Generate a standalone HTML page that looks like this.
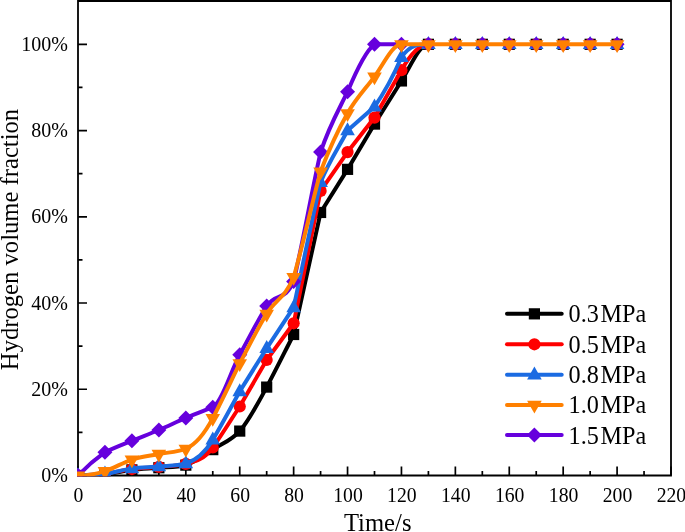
<!DOCTYPE html><html><head><meta charset="utf-8"><title>chart</title><style>html,body{margin:0;padding:0;background:#fff;}body{width:685px;height:532px;overflow:hidden;}svg{display:block;will-change:transform;font-family:"Liberation Serif",serif;}</style></head><body>
<svg width="685" height="532" viewBox="0 0 685 532">
<rect width="685" height="532" fill="#fff"/>
<g stroke="#000" fill="none">
<path d="M78.00,1.00 H671.00 V475.50 H78.00 Z" stroke-width="1.8"/>
<path d="M78.00,475.50 v-9 M131.91,475.50 v-9 M185.82,475.50 v-9 M239.73,475.50 v-9 M293.64,475.50 v-9 M347.55,475.50 v-9 M401.45,475.50 v-9 M455.36,475.50 v-9 M509.27,475.50 v-9 M563.18,475.50 v-9 M617.09,475.50 v-9 M671.00,475.50 v-9 M104.95,475.50 v-4.5 M158.86,475.50 v-4.5 M212.77,475.50 v-4.5 M266.68,475.50 v-4.5 M320.59,475.50 v-4.5 M374.50,475.50 v-4.5 M428.41,475.50 v-4.5 M482.32,475.50 v-4.5 M536.23,475.50 v-4.5 M590.14,475.50 v-4.5 M644.05,475.50 v-4.5 M78.00,475.50 h9 M78.00,389.26 h9 M78.00,303.02 h9 M78.00,216.78 h9 M78.00,130.54 h9 M78.00,44.30 h9 M78.00,432.38 h4.5 M78.00,346.14 h4.5 M78.00,259.90 h4.5 M78.00,173.66 h4.5 M78.00,87.42 h4.5 M78.00,1.18 h4.5" stroke-width="1.7"/>
</g>
<g fill="#000">
<text transform="translate(78.40,502.10) scale(0.9650,1)" font-size="20.40" text-anchor="middle">0</text>
<text transform="translate(132.31,502.10) scale(0.9650,1)" font-size="20.40" text-anchor="middle">20</text>
<text transform="translate(186.22,502.10) scale(0.9650,1)" font-size="20.40" text-anchor="middle">40</text>
<text transform="translate(240.13,502.10) scale(0.9650,1)" font-size="20.40" text-anchor="middle">60</text>
<text transform="translate(294.04,502.10) scale(0.9650,1)" font-size="20.40" text-anchor="middle">80</text>
<text transform="translate(347.95,502.10) scale(0.9650,1)" font-size="20.40" text-anchor="middle">100</text>
<text transform="translate(401.85,502.10) scale(0.9650,1)" font-size="20.40" text-anchor="middle">120</text>
<text transform="translate(455.76,502.10) scale(0.9650,1)" font-size="20.40" text-anchor="middle">140</text>
<text transform="translate(509.67,502.10) scale(0.9650,1)" font-size="20.40" text-anchor="middle">160</text>
<text transform="translate(563.58,502.10) scale(0.9650,1)" font-size="20.40" text-anchor="middle">180</text>
<text transform="translate(617.49,502.10) scale(0.9650,1)" font-size="20.40" text-anchor="middle">200</text>
<text transform="translate(671.40,502.10) scale(0.9650,1)" font-size="20.40" text-anchor="middle">220</text>
<text transform="translate(68.00,482.00) scale(0.9800,1)" font-size="20.40" text-anchor="end">0%</text>
<text transform="translate(68.00,395.76) scale(0.9800,1)" font-size="20.40" text-anchor="end">20%</text>
<text transform="translate(68.00,309.52) scale(0.9800,1)" font-size="20.40" text-anchor="end">40%</text>
<text transform="translate(68.00,223.28) scale(0.9800,1)" font-size="20.40" text-anchor="end">60%</text>
<text transform="translate(68.00,137.04) scale(0.9800,1)" font-size="20.40" text-anchor="end">80%</text>
<text transform="translate(68.00,50.80) scale(0.9800,1)" font-size="20.40" text-anchor="end">100%</text>
<text transform="translate(377.70,531.20) scale(0.9550,1)" font-size="25.80" text-anchor="middle">Time/s</text>
<text transform="translate(18.00,239.50) rotate(-90) scale(0.9550,1)" font-size="25.80" text-anchor="middle">Hydrogen volume fraction</text>
</g>
<defs><clipPath id="c"><rect x="77.00" y="0" width="595.00" height="476.30"/></clipPath></defs>
<g clip-path="url(#c)">
<path d="M78.00,475.50 C86.98,475.07 95.97,475.14 104.95,474.21 C113.94,473.27 122.92,470.97 131.91,469.89 C140.89,468.82 149.88,468.53 158.86,467.74 C167.85,467.08 176.83,467.65 185.82,465.15 C194.80,462.13 203.79,454.80 212.77,449.63 C221.76,443.45 230.74,441.08 239.73,431.09 C248.71,421.09 257.70,403.92 266.68,387.10 C275.67,370.29 284.65,352.03 293.64,334.50 L320.59,212.47 L347.55,169.35 L374.50,124.07 L401.45,80.95 C410.44,66.58 419.42,44.30 428.41,44.30" fill="none" stroke="#000000" stroke-width="4.0" stroke-linejoin="round" stroke-linecap="round"/>
<rect x="72.40" y="469.90" width="11.20" height="11.20" fill="#000000"/>
<rect x="99.35" y="468.61" width="11.20" height="11.20" fill="#000000"/>
<rect x="126.31" y="464.29" width="11.20" height="11.20" fill="#000000"/>
<rect x="153.26" y="462.14" width="11.20" height="11.20" fill="#000000"/>
<rect x="180.22" y="459.55" width="11.20" height="11.20" fill="#000000"/>
<rect x="207.17" y="444.03" width="11.20" height="11.20" fill="#000000"/>
<rect x="234.13" y="425.49" width="11.20" height="11.20" fill="#000000"/>
<rect x="261.08" y="381.50" width="11.20" height="11.20" fill="#000000"/>
<rect x="288.04" y="328.90" width="11.20" height="11.20" fill="#000000"/>
<rect x="314.99" y="206.87" width="11.20" height="11.20" fill="#000000"/>
<rect x="341.95" y="163.75" width="11.20" height="11.20" fill="#000000"/>
<rect x="368.90" y="118.47" width="11.20" height="11.20" fill="#000000"/>
<rect x="395.85" y="75.35" width="11.20" height="11.20" fill="#000000"/>
<rect x="422.81" y="38.70" width="11.20" height="11.20" fill="#000000"/>
<rect x="449.76" y="38.70" width="11.20" height="11.20" fill="#000000"/>
<rect x="476.72" y="38.70" width="11.20" height="11.20" fill="#000000"/>
<rect x="503.67" y="38.70" width="11.20" height="11.20" fill="#000000"/>
<rect x="530.63" y="38.70" width="11.20" height="11.20" fill="#000000"/>
<rect x="557.58" y="38.70" width="11.20" height="11.20" fill="#000000"/>
<rect x="584.54" y="38.70" width="11.20" height="11.20" fill="#000000"/>
<rect x="611.49" y="38.70" width="11.20" height="11.20" fill="#000000"/>
<path d="M78.00,475.50 C86.98,474.93 95.97,474.85 104.95,473.78 C113.94,472.70 122.92,470.18 131.91,469.03 C140.89,467.88 149.88,467.74 158.86,466.88 C167.85,466.01 176.83,465.98 185.82,463.86 C194.80,461.74 203.79,459.90 212.77,447.47 C221.76,435.05 230.74,420.16 239.73,406.51 L266.68,359.94 L293.64,323.29 L320.59,190.91 L347.55,152.10 L374.50,117.60 L401.45,70.17 C410.44,54.36 419.42,44.30 428.41,44.30" fill="none" stroke="#ff0000" stroke-width="4.0" stroke-linejoin="round" stroke-linecap="round"/>
<circle cx="78.00" cy="475.50" r="6.1" fill="#ff0000"/>
<circle cx="104.95" cy="473.78" r="6.1" fill="#ff0000"/>
<circle cx="131.91" cy="469.03" r="6.1" fill="#ff0000"/>
<circle cx="158.86" cy="466.88" r="6.1" fill="#ff0000"/>
<circle cx="185.82" cy="463.86" r="6.1" fill="#ff0000"/>
<circle cx="212.77" cy="447.47" r="6.1" fill="#ff0000"/>
<circle cx="239.73" cy="406.51" r="6.1" fill="#ff0000"/>
<circle cx="266.68" cy="359.94" r="6.1" fill="#ff0000"/>
<circle cx="293.64" cy="323.29" r="6.1" fill="#ff0000"/>
<circle cx="320.59" cy="190.91" r="6.1" fill="#ff0000"/>
<circle cx="347.55" cy="152.10" r="6.1" fill="#ff0000"/>
<circle cx="374.50" cy="117.60" r="6.1" fill="#ff0000"/>
<circle cx="401.45" cy="70.17" r="6.1" fill="#ff0000"/>
<circle cx="428.41" cy="44.30" r="6.1" fill="#ff0000"/>
<circle cx="455.36" cy="44.30" r="6.1" fill="#ff0000"/>
<circle cx="482.32" cy="44.30" r="6.1" fill="#ff0000"/>
<circle cx="509.27" cy="44.30" r="6.1" fill="#ff0000"/>
<circle cx="536.23" cy="44.30" r="6.1" fill="#ff0000"/>
<circle cx="563.18" cy="44.30" r="6.1" fill="#ff0000"/>
<circle cx="590.14" cy="44.30" r="6.1" fill="#ff0000"/>
<circle cx="617.09" cy="44.30" r="6.1" fill="#ff0000"/>
<path d="M78.00,475.50 C86.98,474.93 95.97,474.59 104.95,473.78 C113.94,472.96 122.92,469.61 131.91,468.39 C140.89,467.16 149.88,467.27 158.86,466.44 C167.85,465.62 176.83,466.16 185.82,463.43 C194.80,460.70 203.79,454.58 212.77,439.71 C221.76,424.84 230.74,407.51 239.73,391.42 L266.68,348.30 L293.64,307.33 C302.62,265.65 311.61,221.52 320.59,182.28 C329.58,160.15 338.56,147.79 347.55,130.54 L374.50,106.82 C383.48,93.74 392.47,78.08 401.45,57.24 C410.44,44.30 419.42,44.30 428.41,44.30" fill="none" stroke="#1b6be2" stroke-width="4.0" stroke-linejoin="round" stroke-linecap="round"/>
<polygon points="78.00,467.30 70.70,480.30 85.30,480.30" fill="#1b6be2"/>
<polygon points="104.95,465.58 97.65,478.58 112.25,478.58" fill="#1b6be2"/>
<polygon points="131.91,460.19 124.61,473.19 139.21,473.19" fill="#1b6be2"/>
<polygon points="158.86,458.24 151.56,471.24 166.16,471.24" fill="#1b6be2"/>
<polygon points="185.82,455.23 178.52,468.23 193.12,468.23" fill="#1b6be2"/>
<polygon points="212.77,431.51 205.47,444.51 220.07,444.51" fill="#1b6be2"/>
<polygon points="239.73,383.22 232.43,396.22 247.03,396.22" fill="#1b6be2"/>
<polygon points="266.68,340.10 259.38,353.10 273.98,353.10" fill="#1b6be2"/>
<polygon points="293.64,299.13 286.34,312.13 300.94,312.13" fill="#1b6be2"/>
<polygon points="320.59,174.08 313.29,187.08 327.89,187.08" fill="#1b6be2"/>
<polygon points="347.55,122.34 340.25,135.34 354.85,135.34" fill="#1b6be2"/>
<polygon points="374.50,98.62 367.20,111.62 381.80,111.62" fill="#1b6be2"/>
<polygon points="401.45,49.04 394.15,62.04 408.75,62.04" fill="#1b6be2"/>
<polygon points="428.41,36.10 421.11,49.10 435.71,49.10" fill="#1b6be2"/>
<polygon points="455.36,36.10 448.06,49.10 462.66,49.10" fill="#1b6be2"/>
<polygon points="482.32,36.10 475.02,49.10 489.62,49.10" fill="#1b6be2"/>
<polygon points="509.27,36.10 501.97,49.10 516.57,49.10" fill="#1b6be2"/>
<polygon points="536.23,36.10 528.93,49.10 543.53,49.10" fill="#1b6be2"/>
<polygon points="563.18,36.10 555.88,49.10 570.48,49.10" fill="#1b6be2"/>
<polygon points="590.14,36.10 582.84,49.10 597.44,49.10" fill="#1b6be2"/>
<polygon points="617.09,36.10 609.79,49.10 624.39,49.10" fill="#1b6be2"/>
<path d="M78.00,475.50 C86.98,466.30 95.97,458.68 104.95,452.22 C113.94,447.90 122.92,444.49 131.91,440.79 C140.89,437.09 149.88,433.82 158.86,430.01 C167.85,426.20 176.83,421.74 185.82,417.93 C194.80,414.13 203.79,410.75 212.77,407.15 C221.76,403.56 230.74,371.01 239.73,354.76 C248.71,338.52 257.70,320.67 266.68,306.04 C275.67,292.50 284.65,301.97 293.64,281.46 C302.62,243.58 311.61,191.77 320.59,152.10 C329.58,125.08 338.56,110.42 347.55,91.73 C356.53,70.17 365.52,50.77 374.50,44.30 L401.45,44.30" fill="none" stroke="#6600dd" stroke-width="4.0" stroke-linejoin="round" stroke-linecap="round"/>
<polygon points="78.00,468.00 85.50,475.50 78.00,483.00 70.50,475.50" fill="#6600dd"/>
<polygon points="104.95,444.72 112.45,452.22 104.95,459.72 97.45,452.22" fill="#6600dd"/>
<polygon points="131.91,433.29 139.41,440.79 131.91,448.29 124.41,440.79" fill="#6600dd"/>
<polygon points="158.86,422.51 166.36,430.01 158.86,437.51 151.36,430.01" fill="#6600dd"/>
<polygon points="185.82,410.43 193.32,417.93 185.82,425.43 178.32,417.93" fill="#6600dd"/>
<polygon points="212.77,399.65 220.27,407.15 212.77,414.65 205.27,407.15" fill="#6600dd"/>
<polygon points="239.73,347.26 247.23,354.76 239.73,362.26 232.23,354.76" fill="#6600dd"/>
<polygon points="266.68,298.54 274.18,306.04 266.68,313.54 259.18,306.04" fill="#6600dd"/>
<polygon points="293.64,273.96 301.14,281.46 293.64,288.96 286.14,281.46" fill="#6600dd"/>
<polygon points="320.59,144.60 328.09,152.10 320.59,159.60 313.09,152.10" fill="#6600dd"/>
<polygon points="347.55,84.23 355.05,91.73 347.55,99.23 340.05,91.73" fill="#6600dd"/>
<polygon points="374.50,36.80 382.00,44.30 374.50,51.80 367.00,44.30" fill="#6600dd"/>
<polygon points="401.45,36.80 408.95,44.30 401.45,51.80 393.95,44.30" fill="#6600dd"/>
<polygon points="428.41,36.80 435.91,44.30 428.41,51.80 420.91,44.30" fill="#6600dd"/>
<polygon points="455.36,36.80 462.86,44.30 455.36,51.80 447.86,44.30" fill="#6600dd"/>
<polygon points="482.32,36.80 489.82,44.30 482.32,51.80 474.82,44.30" fill="#6600dd"/>
<polygon points="509.27,36.80 516.77,44.30 509.27,51.80 501.77,44.30" fill="#6600dd"/>
<polygon points="536.23,36.80 543.73,44.30 536.23,51.80 528.73,44.30" fill="#6600dd"/>
<polygon points="563.18,36.80 570.68,44.30 563.18,51.80 555.68,44.30" fill="#6600dd"/>
<polygon points="590.14,36.80 597.64,44.30 590.14,51.80 582.64,44.30" fill="#6600dd"/>
<polygon points="617.09,36.80 624.59,44.30 617.09,51.80 609.59,44.30" fill="#6600dd"/>
<path d="M78.00,475.50 C86.98,476.36 95.97,474.06 104.95,471.19 C113.94,468.31 122.92,462.42 131.91,459.55 C140.89,456.67 149.88,455.74 158.86,453.94 C167.85,452.14 176.83,452.61 185.82,448.77 C194.80,444.92 203.79,435.20 212.77,418.15 C221.76,401.10 230.74,381.64 239.73,363.39 C248.71,346.86 257.70,328.17 266.68,313.80 C275.67,299.43 284.65,298.56 293.64,277.15 C302.62,246.53 311.61,204.35 320.59,171.50 C329.58,148.15 338.56,129.10 347.55,113.29 C356.53,97.48 365.52,88.86 374.50,76.64 C383.48,64.42 392.47,44.30 401.45,44.30 L428.41,44.30 L455.36,44.30 L482.32,44.30 L509.27,44.30 L536.23,44.30 L563.18,44.30 L590.14,44.30 L617.09,44.30" fill="none" stroke="#ff8000" stroke-width="4.0" stroke-linejoin="round" stroke-linecap="round"/>
<polygon points="78.00,484.20 70.70,471.40 85.30,471.40" fill="#ff8000"/>
<polygon points="104.95,479.89 97.65,467.09 112.25,467.09" fill="#ff8000"/>
<polygon points="131.91,468.25 124.61,455.45 139.21,455.45" fill="#ff8000"/>
<polygon points="158.86,462.64 151.56,449.84 166.16,449.84" fill="#ff8000"/>
<polygon points="185.82,457.47 178.52,444.67 193.12,444.67" fill="#ff8000"/>
<polygon points="212.77,426.85 205.47,414.05 220.07,414.05" fill="#ff8000"/>
<polygon points="239.73,372.09 232.43,359.29 247.03,359.29" fill="#ff8000"/>
<polygon points="266.68,322.50 259.38,309.70 273.98,309.70" fill="#ff8000"/>
<polygon points="293.64,285.85 286.34,273.05 300.94,273.05" fill="#ff8000"/>
<polygon points="320.59,180.20 313.29,167.40 327.89,167.40" fill="#ff8000"/>
<polygon points="347.55,121.99 340.25,109.19 354.85,109.19" fill="#ff8000"/>
<polygon points="374.50,85.34 367.20,72.54 381.80,72.54" fill="#ff8000"/>
<polygon points="401.45,53.00 394.15,40.20 408.75,40.20" fill="#ff8000"/>
<polygon points="428.41,53.00 421.11,40.20 435.71,40.20" fill="#ff8000"/>
<polygon points="455.36,53.00 448.06,40.20 462.66,40.20" fill="#ff8000"/>
<polygon points="482.32,53.00 475.02,40.20 489.62,40.20" fill="#ff8000"/>
<polygon points="509.27,53.00 501.97,40.20 516.57,40.20" fill="#ff8000"/>
<polygon points="536.23,53.00 528.93,40.20 543.53,40.20" fill="#ff8000"/>
<polygon points="563.18,53.00 555.88,40.20 570.48,40.20" fill="#ff8000"/>
<polygon points="590.14,53.00 582.84,40.20 597.44,40.20" fill="#ff8000"/>
<polygon points="617.09,53.00 609.79,40.20 624.39,40.20" fill="#ff8000"/>
</g>
<path d="M507,313.85 H561.7" stroke="#000000" stroke-width="4.0" fill="none" stroke-linecap="round"/>
<rect x="528.80" y="308.25" width="11.20" height="11.20" fill="#000000"/>
<text x="568.6" y="322.35" font-size="24.2">0.3<tspan dx="1.6">MPa</tspan></text>
<path d="M507,344.30 H561.7" stroke="#ff0000" stroke-width="4.0" fill="none" stroke-linecap="round"/>
<circle cx="534.40" cy="344.30" r="6.1" fill="#ff0000"/>
<text x="568.6" y="352.80" font-size="24.2">0.5<tspan dx="1.6">MPa</tspan></text>
<path d="M507,374.80 H561.7" stroke="#1b6be2" stroke-width="4.0" fill="none" stroke-linecap="round"/>
<polygon points="534.40,366.60 527.10,379.60 541.70,379.60" fill="#1b6be2"/>
<text x="568.6" y="383.30" font-size="24.2">0.8<tspan dx="1.6">MPa</tspan></text>
<path d="M507,404.90 H561.7" stroke="#ff8000" stroke-width="4.0" fill="none" stroke-linecap="round"/>
<polygon points="534.40,413.60 527.10,400.80 541.70,400.80" fill="#ff8000"/>
<text x="568.6" y="413.40" font-size="24.2">1.0<tspan dx="1.6">MPa</tspan></text>
<path d="M507,435.10 H561.7" stroke="#6600dd" stroke-width="4.0" fill="none" stroke-linecap="round"/>
<polygon points="534.40,427.60 541.90,435.10 534.40,442.60 526.90,435.10" fill="#6600dd"/>
<text x="568.6" y="443.60" font-size="24.2">1.5<tspan dx="1.6">MPa</tspan></text>
</svg></body></html>
